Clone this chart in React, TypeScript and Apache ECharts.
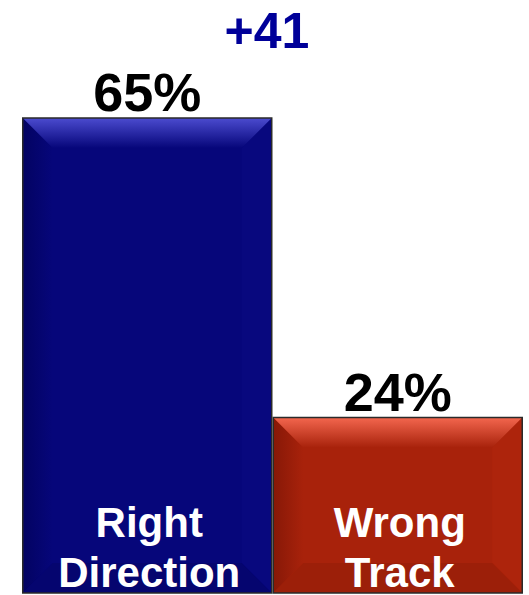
import React, { useEffect, useRef } from "react";
import * as echarts from "echarts";

const categories = ["Right\nDirection", "Wrong\nTrack"];
const values = [65, 24];
const valueLabels = ["65%", "24%"];
const gapLabel = "+41";

const palettes = [
  { main: "#06067a", light: "#4b4bcf", dark: "#030362", side: "#08087e", bottom: "#05056f" },
  { main: "#a8220b", light: "#f3664e", dark: "#871807", side: "#ad240c", bottom: "#9c1f09" },
];

const FONT = "'Liberation Sans', Arial, sans-serif";

export default function App() {
  const ref = useRef<HTMLDivElement>(null);
  useEffect(() => {
    document.body.style.margin = "0";
    const chart = echarts.init(ref.current!, null, { renderer: "svg" });
    const renderItem = (params: any, api: any) => {
      const idx = api.value(0);
      const v = api.value(1);
      const top = api.coord([idx, v]);
      const base = api.coord([idx, 0]);
      const w = api.size([1, 0])[0] * 0.994;
      const x0 = top[0] - w / 2;
      const x1 = top[0] + w / 2;
      const y0 = top[1];
      const y1 = base[1];
      const b = 30;
      const p = palettes[params.dataIndex];
      return {
        type: "group",
        children: [
          { type: "rect", shape: { x: x0, y: y0, width: w, height: y1 - y0 }, style: { fill: p.main } },
          {
            type: "polygon",
            shape: { points: [[x0, y0], [x0 + b, y0 + b], [x0 + b, y1 - b], [x0, y1]] },
            style: {
              fill: new echarts.graphic.LinearGradient(0, 0, 1, 0, [
                { offset: 0, color: p.dark },
                { offset: 1, color: p.main },
              ]),
            },
          },
          {
            type: "polygon",
            shape: { points: [[x1, y0], [x1, y1], [x1 - b, y1 - b], [x1 - b, y0 + b]] },
            style: { fill: p.side },
          },
          {
            type: "polygon",
            shape: { points: [[x0, y1], [x0 + b, y1 - b], [x1 - b, y1 - b], [x1, y1]] },
            style: { fill: p.bottom },
          },
          {
            type: "polygon",
            shape: { points: [[x0, y0], [x1, y0], [x1 - b, y0 + b], [x0 + b, y0 + b]] },
            style: {
              fill: new echarts.graphic.LinearGradient(0, 0, 0, 1, [
                { offset: 0, color: p.light },
                { offset: 1, color: p.main },
              ]),
            },
          },
          {
            type: "rect",
            shape: { x: x0, y: y0, width: w, height: y1 - y0 },
            style: { fill: "none", stroke: "#2a2a2a", lineWidth: 1.5 },
          },
          {
            type: "text",
            style: {
              x: top[0],
              y: y0 - 26,
              text: valueLabels[params.dataIndex],
              fill: "#000000",
              font: `bold 54px ${FONT}`,
              align: "center",
              verticalAlign: "middle",
            },
          },
          {
            type: "text",
            style: {
              x: top[0] + 2,
              y: y1 - 46,
              text: categories[params.dataIndex],
              fill: "#ffffff",
              font: `bold 42px ${FONT}`,
              lineHeight: 50,
              align: "center",
              verticalAlign: "middle",
            },
          },
        ],
      };
    };
    chart.setOption({
      animation: false,
      grid: { left: 22, right: 6, top: 118, bottom: 2 },
      xAxis: { type: "category", data: categories, show: false },
      yAxis: { type: "value", min: 0, max: 65, show: false },
      graphic: [
        {
          type: "text",
          x: 267,
          y: 31,
          style: {
            text: gapLabel,
            fill: "#000099",
            font: `bold 50px ${FONT}`,
            align: "center",
            verticalAlign: "middle",
          },
        },
      ],
      series: [
        {
          type: "custom",
          renderItem,
          data: values.map((v, i) => [i, v]),
          clip: false,
        },
      ],
    });
    return () => chart.dispose();
  }, []);
  return <div ref={ref} style={{ width: 529, height: 595 }} />;
}
